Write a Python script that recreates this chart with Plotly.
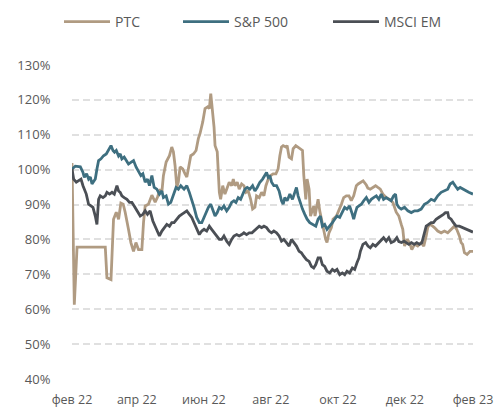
import pandas as pd
import plotly.graph_objects as go

# Day offsets from BASE and values (% of start level)
BASE = pd.Timestamp("2022-01-30 12:00")

ptc_day = [1.5, 3.6, 6.1, 31.8, 33.3, 37.0, 39.3, 41.8, 43.9, 46.0,
           48.1, 49.9, 52.9, 55.1, 57.5, 59.7, 62.0, 65.1, 66.6, 68.1,
           71.1, 74.2, 77.2, 79.3, 81.7, 83.3, 84.7, 87.2, 90.2, 92.3,
           93.8, 95.3, 96.9, 98.3, 99.9, 102.3, 104.4, 106.0, 107.4, 109.6,
           112.0, 114.4, 116.5, 118.0, 120.5, 122.6, 125.0, 126.5, 127.8, 129.6,
           130.8, 131.7, 133.7, 135.6, 136.8, 138.7, 140.7, 142.3, 144.6, 146.8,
           148.3, 149.8, 151.9, 153.7, 155.9, 158.0, 159.8, 161.9, 164.1, 165.9,
           168.0, 169.5, 171.9, 174.1, 176.2, 178.0, 180.1, 182.2, 184.6, 187.1,
           189.1, 190.7, 192.2, 193.7, 196.1, 197.3, 199.1, 201.3, 202.8, 205.2,
           207.3, 209.5, 211.3, 212.5, 214.3, 215.5, 217.3, 218.6, 220.4, 221.6,
           222.7, 224.0, 225.5, 227.0, 228.6, 230.6, 232.4, 233.6, 235.4, 237.6,
           239.1, 242.2, 244.5, 246.7, 248.8, 251.2, 253.6, 255.7, 257.9, 260.3,
           262.0, 266.5, 269.4, 270.8, 273.0, 275.4, 277.8, 279.9, 282.1, 284.5,
           287.5, 290.6, 293.6, 296.6, 299.0, 301.2, 302.6, 304.2, 306.6, 308.7,
           310.8, 313.3, 316.2, 319.3, 321.7, 323.9, 325.3, 326.9, 329.0, 331.4,
           334.4, 337.5, 340.5, 343.5, 346.6, 349.6, 351.7, 354.1, 355.7, 357.1,
           358.7, 361.1, 363.8, 366.5]
ptc_val = [101.9, 61.3, 77.8, 77.8, 69.0, 68.5, 85.8, 87.8, 85.8, 90.4,
           90.1, 87.8, 82.9, 79.1, 76.6, 79.1, 77.1, 77.1, 84.9, 89.6,
           90.1, 92.7, 90.7, 92.1, 94.4, 93.6, 98.3, 102.2, 104.0, 106.5,
           105.1, 101.2, 95.0, 96.5, 100.8, 100.2, 98.8, 97.9, 100.2, 104.0,
           104.5, 105.5, 108.9, 110.3, 113.7, 117.5, 118.0, 117.5, 121.8, 117.0,
           112.2, 106.9, 105.1, 93.5, 91.5, 95.4, 93.0, 94.4, 96.4, 95.4,
           97.3, 95.4, 96.4, 94.4, 95.9, 95.4, 93.5, 93.9, 91.5, 88.7,
           89.2, 92.5, 92.0, 93.5, 92.5, 95.4, 97.3, 98.3, 98.8, 98.8,
           100.2, 104.0, 106.5, 106.9, 106.5, 106.9, 103.6, 103.1, 106.0, 106.9,
           106.5, 106.0, 105.5, 98.3, 91.5, 97.3, 94.4, 86.7, 88.2, 89.6,
           86.7, 89.2, 91.5, 88.2, 85.8, 82.4, 80.0, 79.1, 81.9, 83.4,
           85.8, 86.7, 88.2, 90.1, 92.0, 92.5, 92.5, 91.1, 92.5, 95.4,
           95.9, 96.8, 95.6, 94.7, 94.4, 95.0, 95.4, 94.9, 94.4, 93.0,
           92.0, 91.5, 90.6, 87.8, 86.7, 84.3, 82.9, 78.1, 80.0, 79.1,
           77.1, 78.6, 78.1, 79.1, 78.1, 81.0, 83.4, 84.3, 84.0, 83.4,
           82.4, 81.9, 82.4, 81.9, 82.9, 83.8, 82.9, 81.0, 79.1, 78.6,
           76.2, 75.7, 76.6, 76.6]

sp_day = [1.5, 4.5, 9.1, 11.5, 12.7, 14.8, 16.6, 18.2, 19.7, 21.2,
          22.7, 24.2, 25.7, 27.9, 30.2, 32.7, 34.8, 37.0, 38.8, 40.2,
          41.8, 43.9, 45.4, 46.9, 49.0, 50.8, 52.9, 55.1, 57.5, 59.9,
          62.0, 64.2, 66.0, 68.1, 70.2, 72.0, 74.2, 76.3, 78.7, 81.1,
          83.3, 84.7, 87.2, 89.3, 91.4, 93.8, 96.2, 98.3, 100.5, 103.5,
          106.0, 108.3, 110.5, 112.6, 115.0, 117.4, 119.6, 121.7, 124.1, 125.6,
          127.8, 129.6, 131.7, 133.7, 135.6, 137.7, 139.8, 142.3, 144.6, 146.8,
          148.9, 150.7, 152.8, 155.0, 157.4, 158.9, 161.0, 163.4, 165.9, 168.0,
          170.1, 172.5, 175.0, 177.1, 178.6, 180.1, 181.6, 183.2, 185.2, 187.7,
          190.0, 192.2, 193.7, 195.2, 197.3, 199.8, 202.2, 204.3, 205.8, 207.3,
          209.5, 211.3, 213.4, 215.5, 217.9, 220.9, 223.4, 225.5, 227.6, 229.4,
          231.5, 233.6, 236.1, 238.5, 240.6, 242.7, 245.2, 247.6, 249.7, 251.8,
          254.2, 256.7, 257.9, 259.4, 260.9, 262.7, 264.9, 267.0, 269.4, 271.8,
          273.9, 276.0, 278.5, 280.8, 283.0, 285.1, 287.5, 289.9, 292.0, 294.2,
          296.0, 297.2, 299.0, 301.2, 304.2, 307.2, 310.3, 313.3, 316.2, 319.3,
          322.3, 325.3, 328.4, 331.4, 334.4, 337.5, 340.5, 343.5, 345.7, 348.1,
          350.3, 352.6, 354.8, 357.2, 359.6, 362.6, 366.5]
sp_val = [100.2, 101.0, 100.8, 99.2, 97.8, 98.8, 97.3, 97.9, 95.9, 96.5,
          97.3, 100.2, 102.6, 103.1, 104.0, 104.5, 105.5, 106.9, 105.5, 105.0,
          105.5, 103.9, 104.5, 103.1, 103.6, 102.6, 101.6, 102.1, 102.6, 100.7,
          99.7, 98.3, 98.8, 96.4, 97.3, 95.4, 98.3, 94.9, 94.4, 93.0,
          93.9, 92.0, 92.5, 90.1, 90.6, 92.5, 94.9, 94.4, 95.4, 94.4,
          95.4, 93.5, 91.5, 89.2, 86.3, 84.8, 84.8, 86.3, 88.2, 89.2,
          90.1, 88.2, 86.7, 87.7, 89.2, 88.7, 89.6, 88.2, 89.2, 90.6,
          91.1, 90.6, 92.0, 91.5, 93.0, 94.4, 94.9, 94.4, 95.4, 93.9,
          94.9, 96.4, 97.3, 98.3, 99.2, 97.8, 98.3, 96.4, 95.4, 95.4,
          93.9, 91.1, 90.1, 92.0, 91.1, 93.0, 91.5, 93.5, 94.9, 92.5,
          90.1, 88.7, 87.2, 85.8, 84.8, 84.3, 83.8, 85.8, 86.7, 83.8,
          84.3, 82.9, 83.8, 84.8, 85.8, 86.7, 86.3, 87.7, 89.2, 88.7,
          89.6, 87.2, 85.8, 87.7, 89.2, 89.6, 90.1, 91.1, 92.0, 90.6,
          91.5, 92.0, 92.5, 91.5, 93.0, 91.5, 92.0, 91.5, 91.1, 92.5,
          93.0, 90.1, 89.2, 88.7, 89.2, 88.2, 87.7, 88.2, 88.2, 88.7,
          90.1, 90.6, 91.5, 91.1, 92.5, 93.5, 93.9, 94.4, 95.9, 96.4,
          95.4, 94.4, 94.9, 94.4, 93.9, 93.5, 93.0]

em_day = [1.5, 3.0, 5.4, 7.5, 9.7, 11.5, 12.7, 14.5, 16.6, 18.8,
          20.6, 22.7, 24.2, 25.7, 27.2, 29.7, 31.8, 33.3, 35.7, 37.9,
          40.0, 42.4, 43.9, 45.4, 46.9, 49.0, 51.5, 53.8, 56.0, 58.1,
          59.9, 62.0, 63.6, 66.0, 68.1, 70.2, 72.6, 75.1, 77.2, 79.3,
          81.1, 83.3, 85.4, 87.8, 90.2, 92.3, 94.4, 96.9, 99.2, 101.4,
          103.5, 106.0, 108.3, 110.5, 112.6, 115.0, 117.4, 119.6, 121.7, 124.1,
          126.5, 128.6, 130.8, 133.2, 135.6, 137.7, 139.8, 142.3, 144.6, 146.8,
          148.9, 151.4, 153.7, 155.9, 158.0, 160.4, 162.8, 165.3, 167.1, 169.5,
          171.9, 174.1, 176.2, 178.6, 180.9, 183.1, 185.2, 187.7, 190.0, 192.2,
          194.3, 196.7, 199.1, 201.3, 203.4, 205.8, 208.2, 210.3, 212.4, 214.9,
          217.3, 219.4, 221.5, 223.4, 225.5, 227.6, 229.4, 231.5, 233.6, 236.1,
          238.5, 240.6, 242.7, 245.2, 247.6, 249.7, 251.8, 254.2, 256.7, 258.8,
          260.9, 262.7, 264.0, 266.3, 268.8, 270.9, 273.0, 275.4, 277.8, 280.8,
          283.0, 285.1, 287.5, 289.9, 292.0, 294.8, 297.2, 299.0, 301.4, 303.8,
          305.7, 308.1, 310.5, 313.0, 315.3, 317.8, 320.0, 322.3, 323.9, 326.2,
          328.4, 330.5, 332.9, 335.3, 337.5, 339.6, 341.4, 343.5, 344.4, 346.6,
          348.7, 351.1, 354.1, 357.1, 360.2, 363.2, 366.5]
em_val = [100.2, 97.3, 96.4, 96.8, 97.3, 95.4, 94.4, 93.0, 90.1, 89.6,
          89.2, 86.7, 84.3, 91.5, 92.5, 92.0, 92.5, 93.5, 93.0, 93.5,
          93.0, 95.4, 93.9, 93.5, 92.5, 92.0, 91.5, 90.6, 90.6, 89.6,
          88.7, 87.7, 86.7, 87.2, 88.2, 87.2, 88.2, 85.3, 83.8, 82.4,
          81.0, 82.4, 83.4, 84.3, 83.8, 84.8, 84.8, 85.8, 86.7, 87.2,
          87.7, 88.2, 87.2, 86.3, 84.8, 82.9, 81.4, 82.4, 82.9, 82.4,
          83.8, 82.9, 81.9, 81.0, 80.0, 80.0, 81.0, 79.5, 78.6, 80.0,
          81.0, 81.4, 81.0, 81.4, 81.9, 81.4, 81.9, 81.9, 82.4, 82.9,
          83.8, 83.4, 83.8, 83.4, 82.4, 81.9, 82.4, 81.9, 81.0, 79.5,
          80.0, 79.1, 78.1, 80.0, 79.1, 78.1, 76.6, 76.2, 75.2, 74.2,
          73.7, 72.3, 71.8, 72.8, 74.7, 74.7, 72.8, 72.3, 70.9, 70.4,
          71.4, 70.9, 71.4, 69.9, 70.4, 69.9, 70.9, 70.4, 71.8, 71.4,
          73.3, 74.7, 76.6, 78.6, 79.1, 78.1, 77.6, 78.6, 78.1, 79.1,
          80.0, 80.5, 79.5, 80.5, 79.1, 79.5, 80.5, 79.4, 79.1, 79.5,
          79.1, 78.6, 79.1, 78.6, 79.1, 78.6, 79.1, 81.5, 83.8, 84.3,
          84.8, 84.8, 85.8, 86.3, 86.7, 87.2, 87.7, 87.7, 86.3, 85.8,
          84.8, 83.8, 83.8, 83.4, 82.9, 82.4, 82.1]

series_names = ["PTC", "S&P 500", "MSCI EM"]
series_colors = ["#B09B82", "#3E6F80", "#4B4F55"]

tick_dates = ["2022-02-01", "2022-04-01", "2022-06-01", "2022-08-01",
              "2022-10-01", "2022-12-01", "2023-02-01"]
tick_text = ["фев 22", "апр 22", "июн 22", "авг 22", "окт 22", "дек 22", "фев 23"]
y_ticks = [40, 50, 60, 70, 80, 90, 100, 110, 120, 130]
y_text = [f"{v}%" for v in y_ticks]


def to_dates(days):
    return [BASE + pd.Timedelta(days=d) for d in days]


legend_ids = ["legend", "legend2", "legend3"]
fig = go.Figure()
for name, color, days, vals, lg in zip(series_names, series_colors,
                                       [ptc_day, sp_day, em_day],
                                       [ptc_val, sp_val, em_val], legend_ids):
    fig.add_trace(go.Scatter(x=to_dates(days), y=vals, mode="lines", name=name,
                             line=dict(color=color, width=2.8), legend=lg,
                             hoverinfo="skip"))

all_days = ptc_day + sp_day + em_day
x_range = [BASE + pd.Timedelta(days=min(all_days)), BASE + pd.Timedelta(days=max(all_days))]

FIG_W, FIG_H = 497, 408
legend_x = [59, 178, 328]
legend_common = dict(orientation="h", xref="container", yref="container",
                     xanchor="left", y=1 - 22 / FIG_H, yanchor="middle",
                     font=dict(size=14, color="#595959"), itemwidth=46,
                     bgcolor="rgba(0,0,0,0)")

fig.update_layout(
    width=FIG_W, height=FIG_H,
    margin=dict(l=72, r=24, t=65, b=29, autoexpand=False),
    paper_bgcolor="white", plot_bgcolor="white",
    font=dict(family="Open Sans", size=13, color="#595959"),
    showlegend=True,
    legend=dict(x=legend_x[0] / FIG_W, **legend_common),
    legend2=dict(x=legend_x[1] / FIG_W, **legend_common),
    legend3=dict(x=legend_x[2] / FIG_W, **legend_common),
    xaxis=dict(type="date", range=x_range, tickmode="array",
               tickvals=tick_dates, ticktext=tick_text, automargin=False,
               showgrid=False, showline=False, zeroline=False,
               ticks="outside", ticklen=9, tickcolor="rgba(0,0,0,0)",
               tickfont=dict(size=12.5, color="#595959")),
    yaxis=dict(range=[40, 130], tickmode="array", tickvals=y_ticks, ticktext=y_text,
               automargin=False,
               showgrid=True, gridcolor="#E0E0E0", gridwidth=2, griddash="7px,4px",
               zeroline=False, showline=False,
               ticks="outside", ticklen=18, tickcolor="rgba(0,0,0,0)",
               tickfont=dict(size=13, color="#595959")),
)

fig.write_html("out.html",
               config={"displayModeBar": False},
               post_script="document.body.style.margin='0';"
                           "document.body.style.overflow='hidden';")
